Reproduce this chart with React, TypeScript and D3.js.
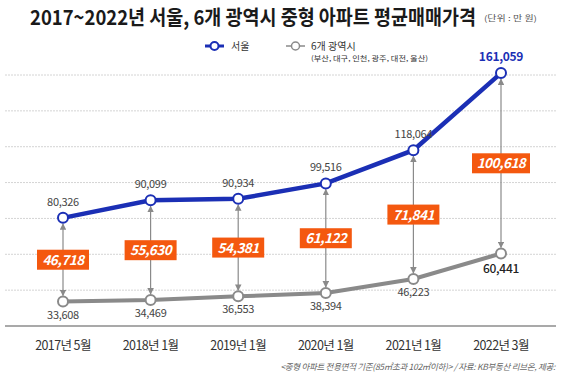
import React from "react";
import * as d3 from "d3";

const categories = ["2017년 5월", "2018년 1월", "2019년 1월", "2020년 1월", "2021년 1월", "2022년 3월"];
const seoul = [80326, 90099, 90934, 99516, 118064, 161059];
const metro = [33608, 34469, 36553, 38394, 46223, 60441];
const gaps = [46718, 55630, 54381, 61122, 71841, 100618];
const gridTicks = [40000, 60000, 80000, 100000, 120000, 140000, 160000];

const W = 564;
const H = 375;
const FONT = "'Noto Sans CJK KR', 'Noto Sans', sans-serif";
const BLUE = "#1b2fb5";
const GRAY = "#8a8a8a";
const ORANGE = "#f4580f";

export default function App() {
  const x = d3.scalePoint<string>().domain(categories).range([63, 501]);
  const y = d3.scaleLinear().domain([20000, 160000]).range([326, 75]);
  const fmt = d3.format(",");
  const line = d3
    .line<number>()
    .x((_, i) => x(categories[i]) as number)
    .y((d) => y(d));

  const titleScale = 0.82;

  return (
    <svg width={W} height={H} style={{ position: "absolute", left: 0, top: 0, background: "#fff" }} fontFamily={FONT}>
      <defs>
        <marker id="arr" viewBox="0 0 10 10" refX="9" refY="5" markerWidth="5.5" markerHeight="5.5" orient="auto-start-reverse">
          <path d="M0,0 L10,5 L0,10 z" fill={GRAY} />
        </marker>
      </defs>
      {/* title */}
      <g transform={`translate(30,25) scale(${titleScale},1)`}>
        <text x={0} y={0} fontSize={20.5} fontWeight={700} fill="#1a1a1a" textLength={446 / titleScale} lengthAdjust="spacingAndGlyphs">
          2017~2022년 서울, 6개 광역시 중형 아파트 평균매매가격
        </text>
      </g>
      <g transform="translate(484,21) scale(0.85,1)">
        <text x={0} y={0} fontSize={8} fill="#555" textLength={53 / 0.85} lengthAdjust="spacingAndGlyphs">
          (단위 : 만 원)
        </text>
      </g>
      {/* legend */}
      <g>
        <line x1={205} x2={224} y1={46} y2={46} stroke={BLUE} strokeWidth={3} />
        <circle cx={214.5} cy={46} r={4} fill="#fff" stroke={BLUE} strokeWidth={2} />
        <text x={231} y={50} fontSize={10} fill="#333">서울</text>
        <line x1={286} x2={305} y1={46} y2={46} stroke={GRAY} strokeWidth={1.5} />
        <circle cx={295.5} cy={46} r={4} fill="#fff" stroke={GRAY} strokeWidth={1.5} />
        <text x={311} y={50} fontSize={10} fill="#333">6개 광역시</text>
        <text x={311} y={61} fontSize={7} fill="#333" textLength={117} lengthAdjust="spacingAndGlyphs">
          (부산, 대구, 인천, 광주, 대전, 울산)
        </text>
      </g>
      {/* gridlines */}
      {gridTicks.map((t) => (
        <line key={t} x1={5} x2={556} y1={y(t)} y2={y(t)} stroke="#d4d4d4" strokeWidth={1} strokeDasharray="2,1" />
      ))}
      {/* axis */}
      <line x1={5} x2={556} y1={y(20000)} y2={y(20000)} stroke="#555" strokeWidth={1.2} />
      {categories.map((c) => (
        <text key={c} x={x(c)} y={350} fontSize={12.5} fill="#333" textAnchor="middle" letterSpacing={-0.6}>
          {c}
        </text>
      ))}
      {/* arrows */}
      {categories.map((c, i) => (
        <line
          key={"a" + c}
          x1={x(c)}
          x2={x(c)}
          y1={y(seoul[i]) + 6}
          y2={y(metro[i]) - 6}
          stroke={GRAY}
          strokeWidth={1.2}
          markerStart="url(#arr)"
          markerEnd="url(#arr)"
        />
      ))}
      {/* lines */}
      <path d={line(metro) || ""} fill="none" stroke={GRAY} strokeWidth={4} />
      <path d={line(seoul) || ""} fill="none" stroke={BLUE} strokeWidth={4.5} />
      {categories.map((c, i) => (
        <g key={"p" + c}>
          <circle cx={x(c)} cy={y(metro[i])} r={5} fill="#fff" stroke={GRAY} strokeWidth={2} />
          <circle cx={x(c)} cy={y(seoul[i])} r={5} fill="#fff" stroke={BLUE} strokeWidth={2} />
        </g>
      ))}
      {/* value labels */}
      {categories.map((c, i) => {
        const last = i === categories.length - 1;
        return (
          <g key={"l" + c}>
            <text
              x={x(c)}
              y={y(seoul[i]) - 12}
              fontSize={last ? 12 : 11}
              fontWeight={last ? 700 : 400}
              fill={last ? BLUE : "#444"}
              textAnchor="middle"
              letterSpacing={-0.3}
            >
              {fmt(seoul[i])}
            </text>
            <text
              x={x(c)}
              y={y(metro[i]) + (last ? 20 : 17)}
              fontSize={last ? 12 : 11}
              fontWeight={last ? 500 : 400}
              fill={last ? "#222" : "#444"}
              textAnchor="middle"
              letterSpacing={-0.3}
            >
              {fmt(metro[i])}
            </text>
          </g>
        );
      })}
      {/* gap boxes */}
      {categories.map((c, i) => {
        const cy = (y(seoul[i]) + y(metro[i])) / 2;
        const w = gaps[i] >= 100000 ? 58 : 52;
        return (
          <g key={"g" + c}>
            <rect x={(x(c) as number) - w / 2} y={cy - 10} width={w} height={20} fill={ORANGE} />
            <text
              x={x(c)}
              y={cy + 5}
              fontSize={13.5}
              fontWeight={600}
              fontStyle="italic"
              fill="#fff"
              textAnchor="middle"
              letterSpacing={-0.5}
            >
              {fmt(gaps[i])}
            </text>
          </g>
        );
      })}
      {/* footnote */}
      <text x={555} y={370} fontSize={8.5} fontStyle="italic" fill="#666" textAnchor="end" letterSpacing={-0.3}>
        {"<중형 아파트 전용면적 기준(85㎡초과 102㎡이하)> / 자료: KB부동산 리브온, 제공:"}
      </text>
    </svg>
  );
}
